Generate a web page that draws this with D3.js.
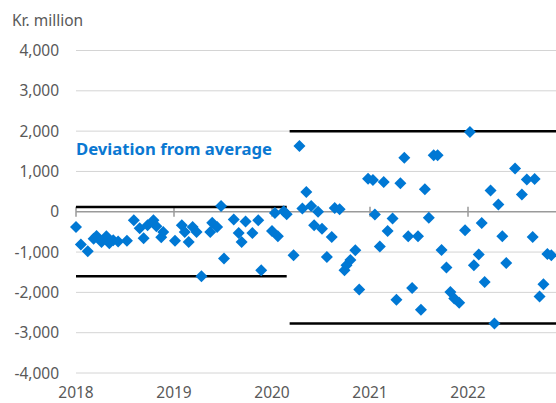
<!DOCTYPE html>
<head>
    <script src="https://d3js.org/d3.v7.min.js"></script>
    <style>
        body { margin: 0; background: #fff; }
        text { font-family: "Noto Sans", sans-serif; }
    </style>
</head>

<body>
    <div id="chart"></div>
</body>

<script>

    const width = 556,
        height = 403;

    // observation dates as decimal years, deviation in kr. million
    const dates = [
        2018.00, 2018.05, 2018.12, 2018.18, 2018.21, 2018.26, 2018.31, 2018.34, 2018.38, 2018.43,
        2018.52, 2018.59, 2018.65, 2018.69, 2018.73, 2018.79, 2018.82, 2018.87, 2018.89, 2019.01,
        2019.08, 2019.11, 2019.15, 2019.19, 2019.23, 2019.28, 2019.37, 2019.39, 2019.44, 2019.48,
        2019.51, 2019.61, 2019.66, 2019.69, 2019.73, 2019.80, 2019.86, 2019.89, 2020.00, 2020.03,
        2020.06, 2020.12, 2020.15, 2020.22, 2020.28, 2020.31, 2020.35, 2020.40, 2020.43, 2020.47,
        2020.51, 2020.56, 2020.61, 2020.64, 2020.69, 2020.74, 2020.76, 2020.80, 2020.85, 2020.89,
        2020.98, 2021.03, 2021.05, 2021.10, 2021.14, 2021.18, 2021.23, 2021.27, 2021.31, 2021.35,
        2021.39, 2021.43, 2021.49, 2021.52, 2021.56, 2021.60, 2021.65, 2021.69, 2021.73, 2021.78,
        2021.82, 2021.86, 2021.91, 2021.97, 2022.02, 2022.06, 2022.11, 2022.14, 2022.17, 2022.23,
        2022.27, 2022.31, 2022.35, 2022.39, 2022.48, 2022.55, 2022.60, 2022.66, 2022.68, 2022.73,
        2022.77, 2022.81, 2022.85
    ];
    const deviation = [
        -380, -810, -980, -670, -600, -750, -610, -780, -710, -740,
        -720, -210, -410, -660, -335, -210, -360, -630, -500, -720,
        -335, -500, -750, -380, -500, -1600, -500, -270, -380, 140,
        -1160, -190, -530, -750, -240, -530, -210, -1450, -480, -30,
        -610, 10, -60, -1080, 1630, 80, 490, 140, -335, 0,
        -420, -1120, -625, 90, 60, -1450, -1330, -1200, -955, -1930,
        820, 790, -70, -860, 740, -480, -170, -2180, 710, 1340,
        -610, -1890, -610, -2430, 560, -150, 1400, 1400, -950, -1380,
        -1990, -2150, -2260, -460, 1980, -1330, -1060, -280, -1740, 530,
        -2770, 180, -610, -1270, 1070, 430, 800, -625, 810, -2100,
        -1800, -1050, -1080
    ];

    // band limits per period
    const bandPeriods = [[2018.0, 2020.15], [2020.18, 2023]];
    const bandUpper = [120, 2000];
    const bandLower = [-1600, -2770];

    const yTicks = [4000, 3000, 2000, 1000, 0, -1000, -2000, -3000, -4000];
    const xTicks = [2018, 2019, 2020, 2021, 2022];

    const x = d3.scaleLinear().domain([2018, 2023]).range([76, 566]);
    const y = d3.scaleLinear().domain([-4000, 4000]).range([373, 50.5]);

    const svg = d3.select("#chart").append("svg")
        .attr("width", width)
        .attr("height", height);

    // gridlines
    svg.append("g").selectAll("line").data(yTicks.filter(d => d !== 0))
        .enter().append("line")
        .attr("x1", x(2018)).attr("x2", width)
        .attr("y1", d => y(d)).attr("y2", d => y(d))
        .attr("stroke", "#d4d4d4").attr("stroke-width", 1);

    svg.append("g").selectAll("text").data(yTicks)
        .enter().append("text")
        .attr("x", 59).attr("y", d => y(d))
        .attr("dy", "0.36em")
        .attr("text-anchor", "end")
        .attr("fill", "#595959")
        .style("font-size", "15.5px")
        .text(d => d3.format(",")(d).replace("−", "-"));

    svg.append("text")
        .attr("x", 12).attr("y", 26)
        .attr("fill", "#595959")
        .style("font-size", "15.5px")
        .text("Kr. million");

    // zero axis with year ticks
    svg.append("line")
        .attr("x1", x(2018)).attr("x2", width)
        .attr("y1", y(0)).attr("y2", y(0))
        .attr("stroke", "#9a9a9a").attr("stroke-width", 1.5);

    svg.append("g").selectAll("line").data(xTicks)
        .enter().append("line")
        .attr("x1", d => x(d)).attr("x2", d => x(d))
        .attr("y1", y(0) - 5).attr("y2", y(0) + 5)
        .attr("stroke", "#9a9a9a").attr("stroke-width", 1.5);

    svg.append("g").selectAll("text").data(xTicks)
        .enter().append("text")
        .attr("x", d => x(d)).attr("y", 398)
        .attr("text-anchor", "middle")
        .attr("fill", "#595959")
        .style("font-size", "15.5px")
        .text(d => d);

    // band limit lines
    bandPeriods.forEach((p, i) => {
        [bandUpper[i], bandLower[i]].forEach(v => {
            svg.append("line")
                .attr("x1", x(p[0])).attr("x2", x(p[1]))
                .attr("y1", y(v)).attr("y2", y(v))
                .attr("stroke", "#000").attr("stroke-width", 2.5);
        });
    });

    svg.append("text")
        .attr("x", 76).attr("y", 155)
        .attr("fill", "#0a78d2")
        .style("font-size", "16.7px")
        .style("font-weight", "bold")
        .text("Deviation from average");

    // points
    const diamond = d3.symbol().type(d3.symbolSquare).size(72);
    svg.append("g").selectAll("path").data(dates)
        .enter().append("path")
        .attr("d", diamond)
        .attr("transform", (d, i) => `translate(${x(d)},${y(deviation[i])}) rotate(45)`)
        .attr("fill", "#0078d4");

</script>
